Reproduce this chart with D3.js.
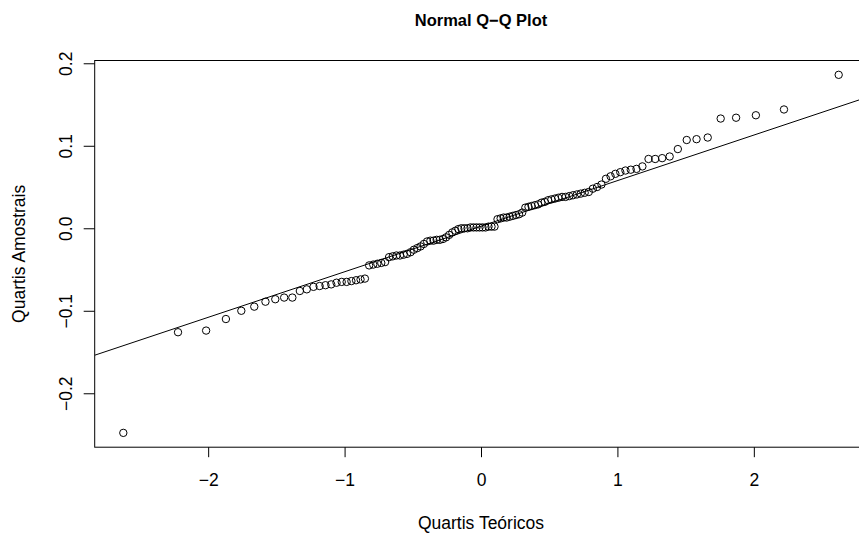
<!DOCTYPE html>
<html>
<head>
<meta charset="utf-8">
<script src="https://cdn.jsdelivr.net/npm/d3@7"></script>
<style>
  html, body { margin: 0; padding: 0; background: #fff; }
  svg { display: block; }
  text { font-family: "Liberation Sans", Arial, Helvetica, sans-serif; fill: #000; }
</style>
</head>
<body>
<svg id="chart" width="859" height="536"></svg>
<script>
// Sample quantiles (sorted sample values)
const sampleQ = [
  -0.248, -0.126, -0.124, -0.110, -0.100, -0.095, -0.089, -0.086, -0.084, -0.084,
  -0.076, -0.074, -0.071, -0.070, -0.069, -0.068, -0.066, -0.065, -0.065, -0.064,
  -0.063, -0.062, -0.061, -0.045, -0.044, -0.043, -0.042, -0.041, -0.035, -0.034,
  -0.033, -0.033, -0.032, -0.031, -0.029, -0.026, -0.024, -0.022, -0.019, -0.016,
  -0.015, -0.015, -0.014, -0.014, -0.013, -0.011, -0.008, -0.005, -0.003, -0.001,
   0.000,  0.000,  0.000,  0.001,  0.001,  0.001,  0.001,  0.001,  0.001,  0.002,
   0.002,  0.002,  0.011,  0.012,  0.013,  0.013,  0.014,  0.015,  0.016,  0.017,
   0.019,  0.025,  0.026,  0.027,  0.028,  0.029,  0.031,  0.032,  0.034,  0.035,
   0.036,  0.037,  0.038,  0.038,  0.039,  0.040,  0.041,  0.042,  0.043,  0.044,
   0.048,  0.050,  0.053,  0.060,  0.063,  0.066,  0.068,  0.070,  0.071,  0.072,
   0.075,  0.084,  0.084,  0.085,  0.087,  0.096,  0.107,  0.108,  0.110,  0.133,
   0.134,  0.137,  0.144,  0.186
];

// Theoretical normal quantiles for n = 114
const theoQ = [
  -2.622, -2.221, -2.015, -1.870, -1.757, -1.662, -1.580, -1.508, -1.443, -1.383,
  -1.328, -1.277, -1.228, -1.183, -1.140, -1.098, -1.059, -1.021, -0.985, -0.950,
  -0.916, -0.883, -0.851, -0.820, -0.790, -0.760, -0.731, -0.703, -0.674, -0.647,
  -0.620, -0.594, -0.567, -0.542, -0.516, -0.492, -0.467, -0.443, -0.419, -0.395,
  -0.371, -0.348, -0.325, -0.302, -0.279, -0.256, -0.233, -0.210, -0.188, -0.166,
  -0.144, -0.121, -0.099, -0.077, -0.055, -0.033, -0.011,  0.011,  0.033,  0.055,
   0.077,  0.099,  0.121,  0.144,  0.166,  0.188,  0.210,  0.233,  0.256,  0.279,
   0.302,  0.325,  0.348,  0.371,  0.395,  0.419,  0.443,  0.467,  0.492,  0.516,
   0.542,  0.567,  0.594,  0.620,  0.647,  0.674,  0.703,  0.731,  0.760,  0.790,
   0.820,  0.851,  0.883,  0.916,  0.950,  0.985,  1.021,  1.059,  1.098,  1.140,
   1.183,  1.228,  1.277,  1.328,  1.383,  1.443,  1.508,  1.580,  1.662,  1.757,
   1.870,  2.015,  2.221,  2.622
];

const xTicks = [-2, -1, 0, 1, 2];
const yTicks = [-0.2, -0.1, 0.0, 0.1, 0.2];
const xTickLabels = ["\u22122", "\u22121", "0", "1", "2"];
const yTickLabels = ["\u22120.2", "\u22120.1", "0.0", "0.1", "0.2"];
const quartileProbsQ = [-0.6745, 0.6745]; // qnorm(0.25), qnorm(0.75)

const titleText = "Normal Q\u2212Q Plot";
const xTitle = "Quartis Te\u00f3ricos";
const yTitle = "Quartis Amostrais";

const svg = d3.select("#chart");
const plot = { left: 94.7, right: 867.3, top: 60.5, bottom: 447.2 };
const axisFont = "17.5px";

// R-style 4% extension of the data range
function ext(arr) {
  const [a, b] = d3.extent(arr);
  const d = (b - a) * 0.04;
  return [a - d, b + d];
}

const x = d3.scaleLinear().domain(ext(theoQ)).range([plot.left, plot.right]);
const y = d3.scaleLinear().domain(ext(sampleQ)).range([plot.bottom, plot.top]);

svg.append("defs").append("clipPath").attr("id", "clip")
  .append("rect")
  .attr("x", plot.left).attr("y", plot.top)
  .attr("width", plot.right - plot.left).attr("height", plot.bottom - plot.top);

// qqline: through first and third quartiles
const yq1 = d3.quantile(sampleQ, 0.25);
const yq3 = d3.quantile(sampleQ, 0.75);
const slope = (yq3 - yq1) / (quartileProbsQ[1] - quartileProbsQ[0]);
const intercept = yq1 - slope * quartileProbsQ[0];
const [xd0, xd1] = x.domain();

svg.append("line")
  .attr("clip-path", "url(#clip)")
  .attr("x1", x(xd0)).attr("y1", y(intercept + slope * xd0))
  .attr("x2", x(xd1)).attr("y2", y(intercept + slope * xd1))
  .attr("stroke", "#000").attr("stroke-width", 1);

// points
svg.append("g").selectAll("circle")
  .data(sampleQ.map((v, i) => [theoQ[i], v]))
  .join("circle")
  .attr("cx", d => x(d[0]))
  .attr("cy", d => y(d[1]))
  .attr("r", 3.7)
  .attr("fill", "none")
  .attr("stroke", "#000")
  .attr("stroke-width", 1);

// box
svg.append("rect")
  .attr("x", plot.left).attr("y", plot.top)
  .attr("width", plot.right - plot.left).attr("height", plot.bottom - plot.top)
  .attr("fill", "none").attr("stroke", "#000").attr("stroke-width", 1);

// x axis
const xAxis = d3.axisBottom(x).tickValues(xTicks).tickSize(10)
  .tickFormat((d, i) => xTickLabels[i]);
const gx = svg.append("g").attr("transform", `translate(0,${plot.bottom})`).call(xAxis);
gx.select(".domain").remove();
gx.selectAll("line").attr("stroke", "#000");
gx.selectAll("text")
  .attr("y", 39).attr("dy", null)
  .style("font-size", axisFont);

// y axis
const yAxis = d3.axisLeft(y).tickValues(yTicks).tickSize(11)
  .tickFormat((d, i) => yTickLabels[i]);
const gy = svg.append("g").attr("transform", `translate(${plot.left},0)`).call(yAxis);
gy.select(".domain").remove();
gy.selectAll("line").attr("stroke", "#000");
gy.selectAll(".tick text")
  .attr("x", null).attr("y", 0).attr("dy", null)
  .attr("text-anchor", "middle")
  .attr("transform", "translate(-22.5,0) rotate(-90)")
  .style("font-size", axisFont);

// title
svg.append("text")
  .attr("x", (plot.left + plot.right) / 2).attr("y", 26)
  .attr("text-anchor", "middle")
  .style("font-size", "16.5px").style("font-weight", "bold")
  .text(titleText);

// x title
svg.append("text")
  .attr("x", (plot.left + plot.right) / 2).attr("y", 529)
  .attr("text-anchor", "middle")
  .style("font-size", axisFont)
  .text(xTitle);

// y title
svg.append("text")
  .attr("transform", `translate(24.5,${(plot.top + plot.bottom) / 2}) rotate(-90)`)
  .attr("text-anchor", "middle")
  .style("font-size", axisFont)
  .text(yTitle);
</script>
</body>
</html>
